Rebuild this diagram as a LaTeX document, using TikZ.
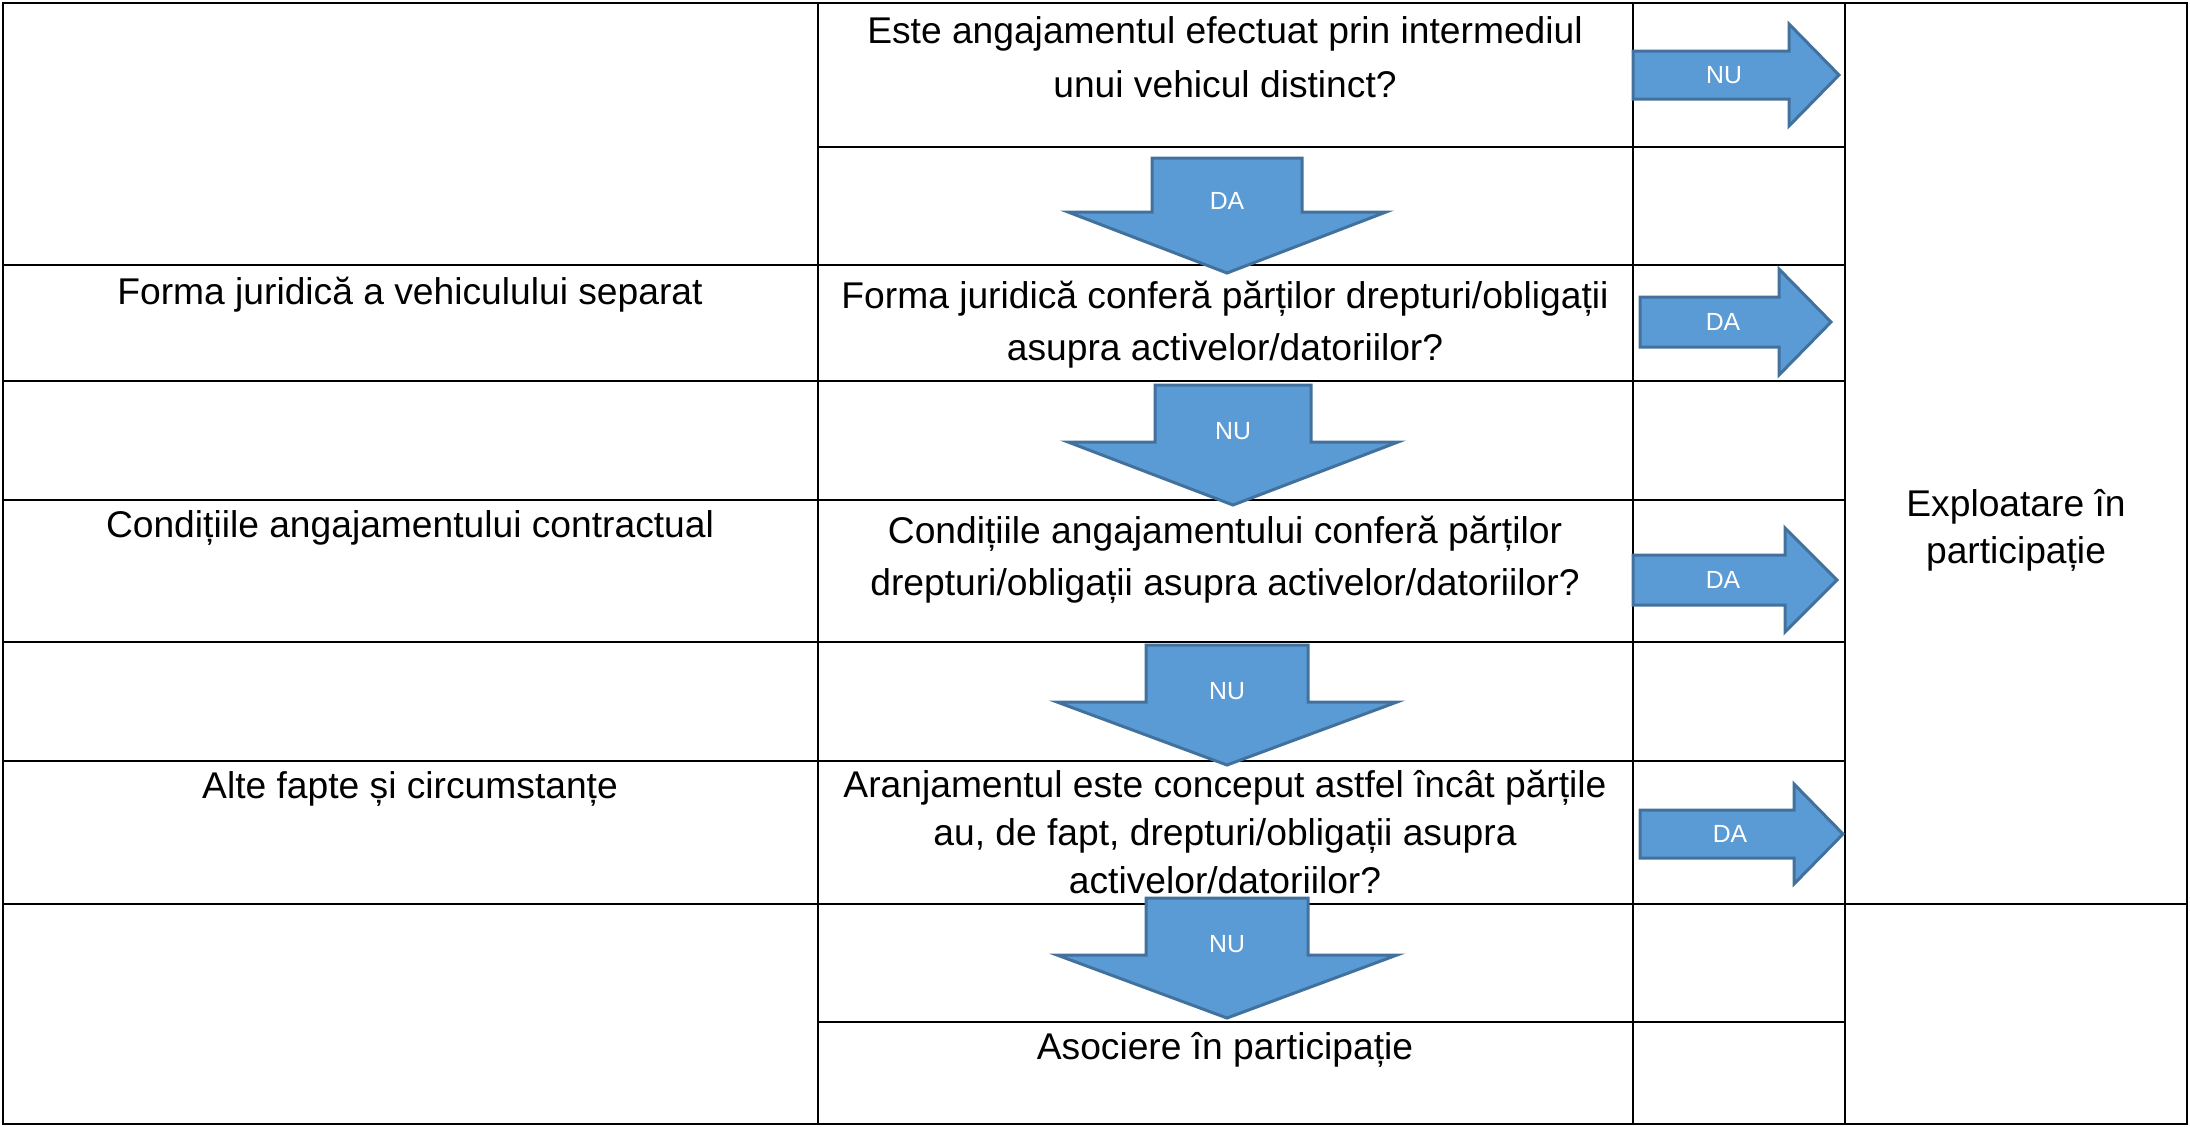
\documentclass[tikz,border=0pt]{standalone}
\usepackage{fontspec}
\setmainfont{Liberation Sans}
\usetikzlibrary{arrows}
\usetikzlibrary{arrows.meta}

\definecolor{arrowfill}{HTML}{5B9BD5}
\definecolor{arrowline}{HTML}{41719C}

\begin{document}
\begin{tikzpicture}[x=0.5pt,y=-0.5pt,
    cell/.style={align=center,inner sep=0pt,anchor=base,font=\fontsize{18.6pt}{26pt}\selectfont},
    blockarrow/.style={fill=arrowfill,draw=arrowline,line width=1.5pt,line join=miter},
    arrowlabel/.style={text=white,inner sep=0pt,font=\fontsize{12.4pt}{14pt}\selectfont},
    grid/.style={line width=1.1pt}]

    \useasboundingbox (0,0) rectangle (2190,1126);

    % draw table
    \draw[grid] (3,3) rectangle (2187,1124);
    \foreach \x in {818,1633,1845}
      \draw[grid] (\x,3) -- (\x,1124);
    \draw[grid] (818,147) -- (1845,147);
    \foreach \y in {265,381,500,642,761}
      \draw[grid] (3,\y) -- (1845,\y);
    \draw[grid] (3,904) -- (2187,904);
    \draw[grid] (818,1022) -- (1845,1022);

    % down arrows
    \foreach \n/\cx/\sw/\hw/\ya/\yb/\yc/\lab in {d1/1227/75/159/158/212/273/DA,
        d2/1233/78/165/385/442/505/NU, d3/1227/81/170/645/702/765/NU, d4/1227/81/170/898/955/1018/NU}
    {
      \draw[blockarrow] ({\cx-\sw},\ya) -- ({\cx+\sw},\ya) -- ({\cx+\sw},\yb) -- ({\cx+\hw},\yb)
        -- (\cx,\yc) -- ({\cx-\hw},\yb) -- ({\cx-\sw},\yb) -- cycle;
      \node[arrowlabel] (\n) at (\cx,{\yb-11}) {\lab};
    }

    % right arrows
    \foreach \n/\xa/\xb/\xc/\cy/\sh/\hh/\lab/\lx in {r1/1633/1789/1839/75/24/51/NU/1724,
        r2/1640/1779/1831/322/25/53/DA/1723, r3/1633/1785/1837/580/25/52/DA/1723,
        r4/1640/1794/1843/834/24/50/DA/1730}
    {
      \draw[blockarrow] (\xa,{\cy-\sh}) -- (\xb,{\cy-\sh}) -- (\xb,{\cy-\hh}) -- (\xc,\cy)
        -- (\xb,{\cy+\hh}) -- (\xb,{\cy+\sh}) -- (\xa,{\cy+\sh}) -- cycle;
      \node[arrowlabel] (\n) at (\lx,\cy) {\lab};
    }

    % criteria (base = last line)
    \node[cell] (f1) at (410,304) {Forma juridică a vehiculului separat};
    \node[cell] (f2) at (410,537) {Condițiile angajamentului contractual};
    \node[cell] (f3) at (410,798) {Alte fapte și circumstanțe};

    % questions
    \node[cell,font=\fontsize{18.6pt}{27pt}\selectfont] (q1) at (1225,97) {Este angajamentul efectuat prin intermediul\\unui vehicul distinct?};
    \node[cell] (q2) at (1225,360) {Forma juridică conferă părților drepturi/obligații\\asupra activelor/datoriilor?};
    \node[cell] (q3) at (1225,595) {Condițiile angajamentului conferă părților\\drepturi/obligații asupra activelor/datoriilor?};
    \node[cell,font=\fontsize{18.6pt}{24pt}\selectfont] (q4) at (1225,893) {Aranjamentul este conceput astfel încât părțile\\au, de fapt, drepturi/obligații asupra\\activelor/datoriilor?};

    % results
    \node[cell] (ja) at (1225,1059) {Asociere în participație};
    \node[cell,font=\fontsize{18.6pt}{23.5pt}\selectfont] (jo) at (2016,563) {Exploatare în\\participație};

\end{tikzpicture}
\end{document}
